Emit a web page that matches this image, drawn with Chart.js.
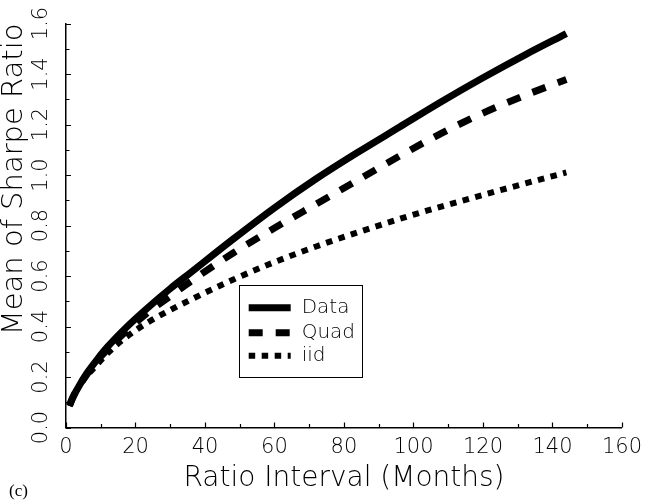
<!DOCTYPE html>
<html>
<head>
<meta charset="utf-8">
<script src="https://cdn.jsdelivr.net/npm/chart.js@4.4.0/dist/chart.umd.min.js"></script>
<style>
  body { margin: 0; background: #fff; }
  #wrap { position: relative; width: 649px; height: 502px; }
  #panel { position: absolute; left: 9px; top: 481px; font: 17px "Liberation Serif", serif; color: #000; }
</style>
</head>
<body>
<div id="wrap">
  <canvas id="myChart" width="649" height="502"></canvas>
  <div id="panel">(c)</div>
</div>
<script>
// ratio interval in months
var months = [1, 2, 4, 6, 9, 12, 18, 24, 30, 36, 48, 60, 72, 84, 96, 108, 120, 132, 144];
// mean of Sharpe ratio
var dataSR = [0.087, 0.12, 0.17, 0.215, 0.27, 0.32, 0.405, 0.48, 0.55, 0.615, 0.745, 0.87, 0.985, 1.09, 1.19, 1.29, 1.385, 1.475, 1.56];
var quadSR = [0.087, 0.12, 0.17, 0.21, 0.265, 0.31, 0.39, 0.46, 0.52, 0.58, 0.69, 0.79, 0.885, 0.98, 1.075, 1.165, 1.245, 1.315, 1.378];
var iidSR = [0.085, 0.12, 0.17, 0.205, 0.25, 0.295, 0.365, 0.42, 0.465, 0.507, 0.585, 0.655, 0.717, 0.773, 0.826, 0.875, 0.921, 0.966, 1.01];

var xTickLabels = ['0', '20', '40', '60', '80', '100', '120', '140', '160'];
var yTickLabels = ['0.0', '0.2', '0.4', '0.6', '0.8', '1.0', '1.2', '1.4', '1.6'];

var FONT = '"DejaVu Sans", sans-serif';

function pts(ys) {
    return months.map(function (m, i) { return { x: m, y: ys[i] }; });
}

// small tick marks pointing into the plot, majors and minors
var insideTicks = {
    id: 'insideTicks',
    afterDraw: function (chart) {
        var ctx = chart.ctx, xs = chart.scales.x, ys = chart.scales.y;
        var a = chart.chartArea;
        ctx.save();
        ctx.strokeStyle = '#000';
        ctx.lineWidth = 1.2;
        ctx.beginPath();
        for (var v = xs.min; v <= xs.max; v += 10) {
            var px = Math.round(xs.getPixelForValue(v)) + 0.5;
            var len = (v % 20 === 0) ? 5 : 3.5;
            ctx.moveTo(px, a.bottom);
            ctx.lineTo(px, a.bottom - len);
        }
        for (var k = 0; k <= 16; k++) {
            var py = Math.round(ys.getPixelForValue(k / 10)) + 0.5;
            var l2 = (k % 2 === 0) ? 5 : 3.5;
            ctx.moveTo(a.left, py);
            ctx.lineTo(a.left + l2, py);
        }
        ctx.stroke();
        ctx.restore();
    }
};

// boxed legend sitting inside the plot
var boxLegend = {
    id: 'boxLegend',
    afterDraw: function (chart, args, opts) {
        var ctx = chart.ctx, xs = chart.scales.x, ys = chart.scales.y;
        var left = xs.getPixelForValue(opts.x0), right = xs.getPixelForValue(opts.x1);
        var top = ys.getPixelForValue(opts.y0), bottom = ys.getPixelForValue(opts.y1);
        ctx.save();
        ctx.fillStyle = '#fff';
        ctx.fillRect(left, top, right - left, bottom - top);
        ctx.strokeStyle = '#000';
        ctx.lineWidth = 1;
        ctx.strokeRect(Math.round(left) + 0.5, Math.round(top) + 0.5, Math.round(right - left), Math.round(bottom - top));
        ctx.font = '200 20px ' + FONT;
        ctx.textBaseline = 'middle';
        chart.data.datasets.forEach(function (ds, i) {
            var y = top + opts.rows[i];
            ctx.beginPath();
            ctx.setLineDash(ds.borderDash || []);
            ctx.lineWidth = ds.borderWidth;
            ctx.lineCap = 'butt';
            ctx.moveTo(left + 10, y);
            ctx.lineTo(left + 52, y);
            ctx.stroke();
            ctx.setLineDash([]);
            ctx.fillStyle = '#000';
            ctx.fillText(ds.label, left + 63, y);
        });
        ctx.restore();
    }
};

var ctx = document.getElementById('myChart').getContext('2d');
var chart = new Chart(ctx, {
    type: 'line',
    data: {
        datasets: [
            {
                label: 'Data',
                data: pts(dataSR),
                borderColor: '#000',
                borderWidth: 7
            },
            {
                label: 'Quad',
                data: pts(quadSR),
                borderColor: '#000',
                borderWidth: 7,
                borderDash: [14, 13]
            },
            {
                label: 'iid',
                data: pts(iidSR),
                borderColor: '#000',
                borderWidth: 6,
                borderDash: [6.5, 6.5]
            }
        ]
    },
    options: {
        responsive: false,
        animation: false,
        layout: { padding: { left: 0, right: 23, top: 23.5, bottom: 0 } },
        elements: {
            point: { radius: 0 },
            line: { cubicInterpolationMode: 'monotone', borderCapStyle: 'butt', fill: false }
        },
        plugins: {
            legend: { display: false },
            tooltip: { enabled: false },
            boxLegend: { x0: 49.7, x1: 85, y0: 0.565, y1: 0.2, rows: [23, 48, 71] }
        },
        scales: {
            x: {
                type: 'linear',
                min: 0,
                max: 160,
                grid: { display: false, drawTicks: false },
                border: { display: true, color: '#000', width: 1.5 },
                ticks: {
                    stepSize: 20,
                    padding: 7,
                    color: '#000',
                    font: { family: FONT, size: 21, weight: 200 },
                    callback: function (v) { return xTickLabels[Math.round(v / 20)]; }
                },
                title: {
                    display: true,
                    text: 'Ratio Interval (Months)',
                    color: '#000',
                    font: { family: FONT, size: 28, weight: 200 },
                    padding: { top: 0, bottom: 6 }
                },
                afterFit: function (s) { s.height = 74.5; }
            },
            y: {
                min: 0,
                max: 1.6,
                grid: { display: false, drawTicks: false },
                border: { display: true, color: '#000', width: 1.5 },
                ticks: {
                    stepSize: 0.2,
                    autoSkip: false,
                    minRotation: 90,
                    maxRotation: 90,
                    crossAlign: 'center',
                    padding: 8,
                    color: '#000',
                    font: { family: FONT, size: 21, weight: 200 },
                    callback: function (v) { return yTickLabels[Math.round(v / 0.2)]; }
                },
                title: {
                    display: true,
                    text: 'Mean of Sharpe Ratio',
                    align: 'end',
                    color: '#000',
                    font: { family: FONT, size: 29, weight: 200 },
                    padding: { top: -3, bottom: 0 }
                },
                afterFit: function (s) { s.width = 66; }
            }
        }
    },
    plugins: [insideTicks, boxLegend]
});
</script>
</body>
</html>
